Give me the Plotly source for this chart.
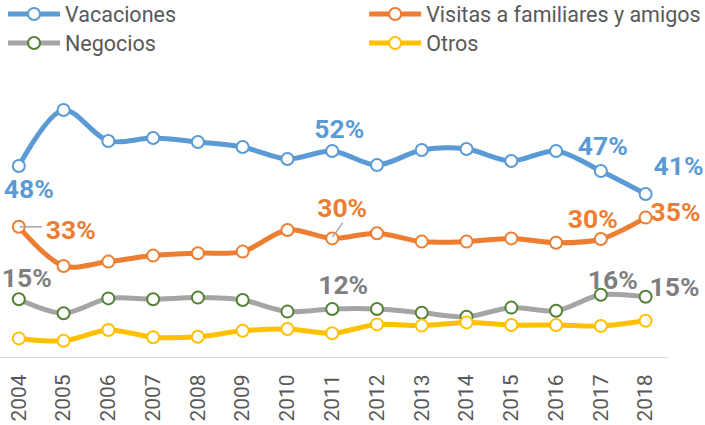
import plotly.graph_objects as go

years = [2004, 2005, 2006, 2007, 2008, 2009, 2010, 2011,
         2012, 2013, 2014, 2015, 2016, 2017, 2018]
year_labels = [str(y) for y in years]
vacaciones = [48, 62, 54.25, 55, 54, 52.75, 49.75, 51.75, 48.25, 52, 52.25, 49.25, 51.75, 46.75, 41]
visitas = [32.8, 23, 24.1, 25.6, 26.2, 26.6, 32, 29.9, 31.2, 29.1, 29.1, 29.9, 28.8, 29.75, 35.1]
negocios = [14.7, 11.2, 14.9, 14.7, 15.1, 14.5, 11.6, 12.25, 12.25, 11.3, 10.3, 12.6, 11.8, 15.8, 15.3]
otros = [4.9, 4.3, 7.0, 5.2, 5.3, 6.8, 7.25, 6.2, 8.4, 8.1, 8.9, 8.25, 8.25, 8.0, 9.3]

names = ["Vacaciones", "Visitas a familiares y amigos", "Negocios", "Otros"]
series = [vacaciones, visitas, negocios, otros]

# data labels: series index, year, text
label_series = [0, 0, 0, 0, 1, 1, 1, 1, 2, 2, 2, 2]
label_years = [2004, 2011, 2017, 2018, 2004, 2011, 2017, 2018, 2004, 2011, 2017, 2018]
label_texts = ["48%", "52%", "47%", "41%", "33%", "30%", "30%", "35%", "15%", "12%", "16%", "15%"]

# styling / placement (pixels relative to the point)
line_colors = ["#5B9BD5", "#ED7D31", "#A5A5A5", "#FFC000"]
marker_line_colors = ["#5B9BD5", "#ED7D31", "#548235", "#FFC000"]
label_colors = ["#5B9BD5", "#ED7D31", "#7F7F7F", "#FFC000"]
legend_ids = ["legend", "legend2", "legend3", "legend4"]
legend_pos = [(0.0043, 14), (0.5165, 14), (0.0043, 43), (0.5165, 43)]  # (x container, y px from top)
label_offsets_px = [(10, -21), (7, 24), (2, 27), (33, 30),
                    (52, -2), (10, 32), (-8, 22), (30, 7),
                    (8, 23), (11, 26), (12, 16), (29, 11)]
LABEL_DY_FIX = -4
PX_PER_YEAR = 44.8
PX_PER_PCT = 4.0
W, H = 705, 425
X_MIN, X_AXIS_END = 2003.58, 2018.5
X_MAX = X_AXIS_END + 37 / PX_PER_YEAR  # extra room on the right for labels

fig = go.Figure()
for name, vals, lc, mc, lg in zip(names, series, line_colors, marker_line_colors, legend_ids):
    fig.add_trace(go.Scatter(
        x=years, y=vals, name=name, mode="lines+markers", legend=lg,
        line=dict(color=lc, width=5, shape="spline", smoothing=0.9),
        marker=dict(size=12, color="white", line=dict(color=mc, width=2)),
        hoverinfo="skip",
    ))

for si in range(3):
    xs, ys, ts = [], [], []
    for s, yr, txt, (dx, dy) in zip(label_series, label_years, label_texts, label_offsets_px):
        if s != si:
            continue
        v = series[s][years.index(yr)]
        xs.append(yr + dx / PX_PER_YEAR)
        ys.append(v + (dy + LABEL_DY_FIX) / PX_PER_PCT)
        ts.append("<b>%s</b>" % txt)
    fig.add_trace(go.Scatter(
        x=xs, y=ys, text=ts, mode="text", textposition="middle center",
        textfont=dict(family="Roboto", size=26.5, color=label_colors[si]),
        showlegend=False, hoverinfo="skip", cliponaxis=False,
    ))

# category axis baseline
fig.add_shape(type="line", xref="x", yref="y", x0=X_MIN, x1=X_AXIS_END, y0=0, y1=0,
              line=dict(color="#D9D9D9", width=2), layer="below")

# leader lines
fig.add_shape(type="line", xref="x", yref="y", xsizemode="pixel", ysizemode="pixel",
              xanchor=2004, yanchor=visitas[0], x0=1, x1=23, y0=0, y1=0,
              line=dict(color="#A5A5A5", width=1.5))
fig.add_shape(type="line", xref="x", yref="y", xsizemode="pixel", ysizemode="pixel",
              xanchor=2011, yanchor=visitas[7], x0=0.5, x1=10.5, y0=1.5, y1=15.5,
              line=dict(color="#A5A5A5", width=1.5))

legend_font = dict(family="Roboto", size=21.5, color="#595959")
legends = {}
for lg, (lx, ly) in zip(legend_ids, legend_pos):
    legends[lg] = dict(orientation="v", xref="container", yref="container",
                       x=lx, xanchor="left", y=1 - ly / H, yanchor="middle",
                       font=legend_font, itemwidth=52, tracegroupgap=0,
                       bgcolor="rgba(0,0,0,0)")

fig.update_layout(
    width=W, height=H,
    margin=dict(l=0, r=0, t=60, b=67, autoexpand=False),
    paper_bgcolor="white", plot_bgcolor="white",
    font=dict(family="Roboto", color="#595959"),
    showlegend=True,
    xaxis=dict(range=[X_MIN, X_MAX], showgrid=False, zeroline=False,
               showline=False,
               tickmode="array", tickvals=years, ticktext=year_labels,
               ticks="outside", ticklen=7, tickcolor="rgba(0,0,0,0)",
               tickangle=-90, tickfont=dict(family="Roboto", size=21, color="#595959"),
               fixedrange=True),
    yaxis=dict(range=[0, 74.5], visible=False, showgrid=False, zeroline=False,
               fixedrange=True),
    **legends,
)

fig.write_html("out.html", config={"displayModeBar": False},
               post_script="document.body.style.margin='0';document.body.style.overflow='hidden';")
